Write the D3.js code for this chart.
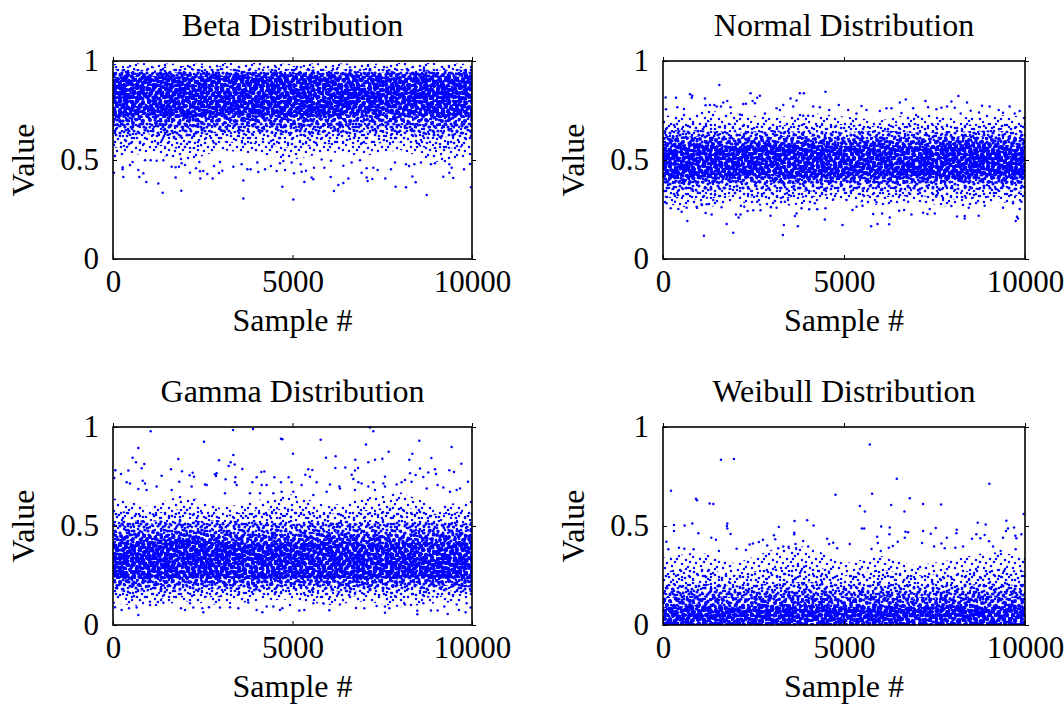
<!DOCTYPE html>
<html>
<head>
<meta charset="utf-8">
<script src="https://cdn.jsdelivr.net/npm/d3@7"></script>
<style>
body { margin: 0; background: #fff; }
text { font-family: "Liberation Serif", serif; fill: #000; }
</style>
</head>
<body>
<svg id="chart" width="1064" height="706"></svg>
<script>
// the individually readable points, [sample #, value]
const betaPoints = [[3630,.306],[5023,.301],[8737,.323],[1383,.335],[1903,.345],[4716,.365],[6155,.344],[7873,.365],[8161,.362],[9972,.362],[928,.389],[1262,.381],[3630,.397],[5330,.389],[6276,.374],[6415,.384],[6555,.406],[8430,.387],[287,.414],[733,.414],[1745,.411],[2432,.407],[2776,.406],[5533,.411],[5580,.403],[6063,.414],[7065,.411],[7094,.394],[7224,.404],[7585,.407],[8338,.417],[9201,.416],[9480,.409],[9368,.436],[27,.436],[269,.453],[269,.463],[705,.45],[845,.433],[1634,.466],[1745,.463],[1838,.466],[1912,.483],[2144,.436],[2311,.458],[2423,.443],[2516,.445],[2627,.429],[2952,.434],[3045,.446],[2813,.47],[3351,.466],[3584,.478],[3741,.453],[3834,.453],[4048,.44],[4234,.453],[4400,.47],[4559,.445],[4791,.45],[4651,.483],[5041,.433],[5255,.441],[5376,.446],[5227,.478],[5599,.461],[5886,.461],[6415,.471],[6926,.436],[7065,.458],[7251,.461],[7372,.45],[7743,.453],[8161,.478],[8245,.47],[8393,.478],[8579,.488],[9368,.478],[9433,.461],[9777,.453],[9944,.48],[8857,.478],[8968,.483],[9247,.495],[473,.475],[547,.49],[891,.499],[1049,.499],[1216,.496],[1402,.499],[2005,.475],[2404,.49],[2980,.49],[4020,.488],[4744,.495],[4976,.488],[5812,.503],[6072,.496],[6648,.487],[6880,.499],[7855,.487]];
const normalPoints = [[1555,.879],[4489,.845],[2419,.837],[359,.815],[745,.832],[809,.825],[791,.815],[73,.816],[1159,.81],[2677,.825],[2603,.815],[3523,.811],[3781,.837],[3891,.837],[3689,.801],[8160,.823],[6707,.806],[6541,.791],[7249,.798],[7967,.795],[8399,.79],[1665,.791],[1775,.798],[2217,.783],[2290,.784],[2475,.798],[2539,.786],[1177,.776],[1297,.778],[1417,.778],[1481,.77],[1601,.77],[1867,.766],[3321,.778],[3597,.77],[3137,.761],[3229,.753],[4149,.77],[4333,.766],[4857,.778],[5483,.773],[5115,.753],[5621,.753],[5989,.747],[6173,.761],[6311,.761],[6909,.761],[7323,.766],[7553,.756],[7691,.764],[7847,.77],[8059,.764],[8500,.749],[8813,.774],[9025,.77],[9577,.77],[83,.756],[395,.766],[579,.758],[9853,.747],[9273,.752],[8731,.74],[8225,.735],[2125,.73],[2815,.735],[4590,.752],[3873,.724],[4011,.724],[5345,.735],[6587,.737],[7047,.719],[9393,.739],[9715,.735],
  [1131,.118],[1941,.133],[3312,.121],[1757,.177],[3339,.172],[3726,.165],[4959,.172],[5750,.165],[5925,.177],[6247,.175],[671,.192],[2088,.209],[2015,.225],[2143,.225],[3643,.217],[3689,.23],[4471,.2],[6265,.209],[5805,.227],[6053,.23],[8123,.215],[8335,.217],[8335,.205],[8721,.219],[9743,.192],[9779,.214],[9807,.205],[1177,.232],[1343,.225],[2971,.219],[211,.256],[423,.253],[515,.239],[653,.259],[2337,.243],[2493,.246],[2695,.246],[1619,.261],[2153,.269],[2245,.264],[2981,.261],[3137,.259],[3827,.256],[4039,.251],[4259,.251],[4489,.256],[5235,.248],[5345,.264],[5511,.269],[6523,.244],[6661,.248],[6863,.225],[7185,.233],[7305,.227],[7507,.23],[7369,.252],[7967,.268],[8445,.259],[8887,.269],[9393,.259],[9853,.252],[101,.281],[331,.289],[929,.264],[1067,.276],[1205,.276],[1389,.298],[2603,.289],[3091,.293],[3367,.289],[4195,.281],[4701,.3],[5069,.298],[5897,.286],[6771,.289],[7737,.298],[9669,.281],[9899,.289]];
const gammaPoints = [[1049,.978],[3342,.985],[3899,.99],[7158,.998],[7251,.978],[4679,.941],[4716,.938],[2534,.926],[5784,.936],[7047,.912],[8533,.931],[9433,.899],[705,.894],[547,.845],[640,.822],[872,.813],[798,.792],[1819,.838],[2952,.832],[3351,.859],[3277,.822],[3222,.803],[3389,.81],[3602,.788],[5013,.865],[5933,.845],[6202,.852],[6193,.793],[6471,.795],[6750,.835],[6824,.793],[6740,.78],[7112,.822],[7298,.835],[7502,.84],[7678,.875],[8254,.835],[8338,.865],[8867,.843],[9703,.815],[1615,.786],[65,.781],[427,.78],[222,.763],[37,.742],[1355,.754],[1922,.776],[2135,.756],[2219,.769],[2256,.749],[2841,.761],[2887,.766],[2869,.752],[3138,.736],[3407,.746],[4001,.746],[4131,.773],[4215,.775],[4493,.746],[4893,.746],[5357,.759],[5440,.786],[5552,.783],[5487,.749],[6648,.759],[6695,.738],[7576,.749],[8133,.732],[8273,.766],[8551,.79],[8430,.758],[8969,.786],[8997,.763],[8783,.77],[8644,.748],[9368,.781],[9498,.773],[9888,.724],
  [380,.721],[473,.715],[826,.729],[891,.715],[1847,.724],[2562,.71],[2609,.707],[3398,.721],[3444,.707],[3881,.721],[4141,.707],[4280,.707],[4679,.721],[4976,.721],[5255,.707],[5673,.721],[6044,.71],[6304,.699],[6833,.721],[6926,.715],[7251,.721],[7530,.715],[7901,.71],[8040,.721],[8319,.724],[8737,.69],[9043,.707],[9201,.694],[9668,.69],
  [705,.687],[937,.682],[1216,.699],[1634,.682],[2191,.699],[3119,.665],[3816,.665],[4094,.665],[4466,.665],[4698,.673],[5023,.673],[5580,.657],[5951,.673],[6322,.69],[6740,.682],[7112,.699],[7298,.682],[7576,.699],[9387,.673],[9573,.682],
  [705,.05],[8477,.054],[8477,.072],[7576,.062],[9322,.056],[4159,.064],[4001,.076],[55,.09],[241,.076],[445,.084],[659,.088],[1894,.084],[2005,.076],[2237,.088],[2488,.084],[2516,.064],[2674,.09],[2980,.088],[3259,.09],[3491,.084],[4280,.093],[4466,.093],[4651,.076],[4716,.084],[5190,.073],[5329,.076],[6026,.074],[6768,.086],[7000,.084],[7697,.084],[7576,.093],[8857,.073],[9043,.073],[9229,.093],[9637,.076],[9823,.064],[9962,.088],[9851,.11],[6322,.104],[7344,.096],[8133,.104],[1402,.113],[1030,.118],[2144,.11],[3769,.114],[4930,.101],[5580,.11],[9572,.104],[5858,.11],[8644,.11]];
const weibullPoints = [[5713,.912],[1601,.835],[1959,.838],[6458,.739],[9016,.714],[221,.678],[4765,.658],[5777,.663],[911,.637],[938,.63],[1288,.614],[1389,.611],[6817,.64],[6302,.606],[7185,.611],[7682,.609],[5437,.601],[6670,.573],[5575,.573],[9963,.561],[303,.505],[598,.503],[809,.512],[1775,.512],[1766,.5],[1775,.487],[975,.463],[1867,.46],[3201,.495],[3634,.525],[3983,.529],[4158,.503],[3625,.466],[3625,.458],[5492,.487],[5557,.487],[6026,.498],[6265,.492],[6256,.458],[6697,.471],[6771,.468],[5915,.446],[4535,.436],[7185,.475],[7397,.461],[7535,.49],[8114,.481],[8105,.463],[8694,.517],[8915,.508],[9485,.527],[9531,.488],[9697,.492],[9476,.475],[8657,.458],[8887,.455],[9733,.451],[9899,.458],[303,.475],[1334,.441],[1463,.431],[3063,.453],[3100,.433],[3873,.424],[4011,.396],[92,.421],[441,.39],[589,.385],[147,.382],[846,.382],[1545,.374],[2033,.385],[2291,.379],[2392,.406],[2484,.412],[2649,.419],[2760,.431],[2879,.401],[3183,.387],[3321,.396],[3468,.395],[3661,.409],[3680,.384],[4591,.409],[4701,.416],[4811,.387],[5161,.409],[5759,.384],[5934,.414],[6017,.374],[6237,.39],[6348,.399],[6486,.421],[6679,.441],[7157,.414],[7489,.396],[7691,.412],[7783,.387],[7838,.441],[8077,.39],[8289,.396],[8537,.436],[8767,.438],[9007,.423],[9117,.397],[9393,.441],[9761,.438],[9329,.374],[9743,.382]];

// too many points to read one by one, so the crowded part of each cloud is
// kept as five nested envelopes (lower and upper edge), one per density step,
// sampled every 1000 samples
const bandSamples = [0,1000,2000,3000,4000,5000,6000,7000,8000,9000,10000];
const betaFringeLow = [.5,.54,.49,.55,.53,.5,.54,.52,.55,.49,.52];
const betaFringeHigh = [.985,.99,.985,.99,.99,.985,.99,.985,.99,.99,.985];
const betaOuterLow = [.56,.58,.55,.59,.58,.56,.58,.58,.59,.55,.57];
const betaOuterHigh = [.975,.97,.975,.975,.97,.975,.97,.975,.97,.975,.97];
const betaMidLow = [.62,.63,.61,.64,.64,.62,.63,.64,.64,.61,.63];
const betaMidHigh = [.96,.955,.96,.96,.955,.96,.955,.96,.96,.955,.96];
const betaInnerLow = [.67,.68,.66,.68,.68,.67,.67,.69,.68,.67,.68];
const betaInnerHigh = [.945,.94,.945,.94,.945,.94,.94,.945,.94,.945,.94];
const betaCoreLow = [.72,.73,.71,.73,.73,.72,.72,.74,.73,.72,.73];
const betaCoreHigh = [.92,.925,.92,.925,.92,.925,.92,.925,.92,.925,.92];
const normalFringeLow = [.28,.25,.29,.26,.28,.3,.27,.29,.26,.28,.29];
const normalFringeHigh = [.72,.75,.74,.71,.74,.72,.7,.74,.71,.73,.72];
const normalOuterLow = [.31,.3,.32,.3,.31,.33,.31,.32,.3,.31,.32];
const normalOuterHigh = [.68,.7,.68,.67,.69,.68,.67,.69,.67,.69,.68];
const normalMidLow = [.35,.34,.35,.35,.34,.35,.35,.34,.35,.35,.34];
const normalMidHigh = [.65,.65,.64,.65,.64,.64,.65,.64,.64,.65,.64];
const normalInnerLow = [.38,.38,.39,.38,.38,.39,.38,.38,.39,.38,.38];
const normalInnerHigh = [.62,.62,.61,.62,.62,.61,.62,.61,.62,.62,.61];
const normalCoreLow = [.42,.41,.42,.42,.41,.42,.42,.42,.41,.42,.42];
const normalCoreHigh = [.58,.58,.57,.58,.58,.57,.58,.57,.58,.58,.57];
const gammaFringeLow = [.11,.09,.12,.1,.12,.13,.1,.12,.09,.11,.12];
const gammaFringeHigh = [.64,.6,.66,.59,.63,.66,.6,.64,.67,.6,.63];
const gammaOuterLow = [.14,.13,.14,.14,.15,.15,.13,.15,.13,.14,.15];
const gammaOuterHigh = [.58,.56,.59,.55,.58,.59,.56,.58,.6,.56,.58];
const gammaMidLow = [.17,.17,.17,.18,.17,.18,.17,.17,.18,.17,.17];
const gammaMidHigh = [.52,.53,.52,.53,.52,.51,.52,.51,.52,.52,.51];
const gammaInnerLow = [.2,.19,.2,.2,.19,.2,.2,.19,.2,.2,.19];
const gammaInnerHigh = [.46,.47,.48,.47,.46,.46,.47,.46,.46,.47,.46];
const gammaCoreLow = [.24,.23,.24,.24,.23,.24,.24,.23,.24,.24,.23];
const gammaCoreHigh = [.41,.42,.43,.42,.41,.41,.42,.41,.41,.42,.41];
const weibullFringeLow = [0,0,0,0,0,0,0,0,0,0,0];
const weibullFringeHigh = [.34,.37,.31,.38,.4,.31,.35,.3,.33,.37,.35];
const weibullOuterLow = [0,0,0,0,0,0,0,0,0,0,0];
const weibullOuterHigh = [.27,.29,.25,.29,.31,.25,.28,.25,.26,.29,.27];
const weibullMidLow = [0,0,0,0,0,0,0,0,0,0,0];
const weibullMidHigh = [.2,.21,.2,.21,.22,.2,.21,.2,.2,.21,.2];
const weibullInnerLow = [0,0,0,0,0,0,0,0,0,0,0];
const weibullInnerHigh = [.14,.15,.14,.15,.15,.14,.15,.14,.14,.15,.14];
const weibullCoreLow = [0,0,0,0,0,0,0,0,0,0,0];
const weibullCoreHigh = [.09,.1,.09,.1,.1,.09,.1,.09,.1,.09,.1];

const xTicks = [0,5000,10000];
const yTicks = [0,0.5,1];
const xLabel = "Sample #";
const yLabel = "Value";

const blue = "#0000ff";
const plot_w = 359;
const plot_h = 198;
const dot_r = 1.25;

var svg = d3.select("#chart");
var defs = svg.append("defs");

// repeating speckle so the envelopes read as crowded dots and not flat colour
// (tile sizes differ so the layers do not line up into a visible grid)
function make_tile(id, w, h, r, spots) {
    var p = defs.append("pattern").attr("id", id)
        .attr("patternUnits", "userSpaceOnUse")
        .attr("width", w).attr("height", h);
    spots.forEach(function(s) {
        p.append("circle").attr("cx", s[0]).attr("cy", s[1]).attr("r", r).attr("fill", blue);
    });
}
make_tile("tileA", 29, 23, dot_r, [[2,3],[9,1],[17,5],[25,2],[5,9],[13,11],[21,8],[27,12],[1,15],[8,17],[16,14],[23,18],[4,21],[12,20],[19,22],[27,20],[10,6],[19,12],[14,17],[23,4]]);
make_tile("tileB", 37, 31, 1.35, [[3,6],[11,2],[20,4],[30,1],[35,8],[7,13],[15,10],[25,9],[32,15],[2,19],[12,17],[19,15],[27,20],[35,24],[6,26],[15,24],[22,27],[30,28],[10,29],[18,20],[6,3],[15,6],[25,3],[33,5],[11,9],[20,11],[29,12],[3,12],[8,20],[14,13],[24,15],[31,21],[3,25],[11,23],[19,29],[26,25]]);
make_tile("tileC", 19, 17, 1.6, [[2,2],[7,4],[13,1],[17,6],[4,8],[10,9],[15,12],[1,13],[7,14],[12,15],[18,15],[9,12],[16,2]]);
make_tile("tileE", 23, 19, 2, [[1,1],[7,3],[14,2],[20,5],[4,7],[11,8],[17,10],[22,12],[2,13],[8,14],[14,15],[20,17],[5,18],[11,17]]);
make_tile("tileD", 17, 13, 2.3, [[2,2],[7,1],[13,3],[4,6],[10,6],[15,8],[1,10],[7,11],[12,12]]);

function draw_panel(cfg) {
    var x = d3.scaleLinear().domain([0,10000]).range([0, cfg.w]);
    var y = d3.scaleLinear().domain([0,1]).range([plot_h, 0]);
    var g = svg.append("g").attr("transform", `translate(${cfg.left},${cfg.top})`);

    var area = d3.area()
        .x(function(d) { return x(d[0]); })
        .y0(function(d) { return y(d[1]); })
        .y1(function(d) { return y(d[2]); });
    var tiles = ["tileA","tileB","tileC","tileE","tileD"];
    cfg.bands.forEach(function(b, i) {
        g.append("path").datum(d3.zip(bandSamples, b[0], b[1]))
            .attr("d", area).attr("fill", `url(#${tiles[i]})`);
    });

    g.selectAll(".dot").data(cfg.points).enter().append("circle")
        .attr("class", "dot")
        .attr("cx", function(d) { return x(d[0]); })
        .attr("cy", function(d) { return y(d[1]); })
        .attr("r", dot_r)
        .attr("fill", blue);

    // ticks point inward on all four sides
    function ticks_only(a) { return a.tickSize(-4).tickFormat("").tickSizeOuter(0); }
    g.append("g").call(ticks_only(d3.axisTop(x).tickValues(xTicks))).attr("transform", "translate(0,0) scale(1,-1)");
    g.append("g").attr("transform", `translate(${cfg.w},0) scale(-1,1)`).call(ticks_only(d3.axisRight(y).tickValues(yTicks)));
    var xAxis = g.append("g").attr("transform", `translate(0,${plot_h})`)
        .call(d3.axisBottom(x).tickValues(xTicks).tickSize(-4).tickSizeOuter(0).tickPadding(10).tickFormat(d3.format("d")));
    var yAxis = g.append("g")
        .call(d3.axisLeft(y).tickValues(yTicks).tickSize(-4).tickSizeOuter(0).tickPadding(14).tickFormat(function(d) { return String(d); }));
    g.selectAll(".domain").remove();
    g.selectAll(".tick line").attr("stroke", "#000").attr("stroke-width", 1);
    xAxis.selectAll("text").attr("font-size", 31).attr("font-family", "Liberation Serif").attr("y", 11).attr("dy", "0.71em");
    yAxis.selectAll("text").attr("font-size", 31).attr("font-family", "Liberation Serif").attr("dy", "0.32em");

    g.append("rect").attr("width", cfg.w).attr("height", plot_h)
        .attr("fill", "none").attr("stroke", "#000").attr("stroke-width", 1.6);

    g.append("text").attr("x", cfg.w/2).attr("y", -25).attr("text-anchor", "middle")
        .attr("font-size", 32).text(cfg.title);
    g.append("text").attr("x", cfg.w/2).attr("y", 72).attr("transform", `translate(0,${plot_h})`)
        .attr("text-anchor", "middle").attr("font-size", 32).text(xLabel);
    g.append("text").attr("transform", `translate(${cfg.ylabel_x},${plot_h/2}) rotate(-90)`)
        .attr("text-anchor", "middle").attr("font-size", 32).text(yLabel);
}

draw_panel({title:"Beta Distribution", left:113, top:61, w:plot_w, ylabel_x:-79, points:betaPoints,
    bands:[[betaFringeLow,betaFringeHigh],[betaOuterLow,betaOuterHigh],[betaMidLow,betaMidHigh],[betaInnerLow,betaInnerHigh],[betaCoreLow,betaCoreHigh]]});
draw_panel({title:"Normal Distribution", left:663, top:61, w:362, ylabel_x:-79, points:normalPoints,
    bands:[[normalFringeLow,normalFringeHigh],[normalOuterLow,normalOuterHigh],[normalMidLow,normalMidHigh],[normalInnerLow,normalInnerHigh],[normalCoreLow,normalCoreHigh]]});
draw_panel({title:"Gamma Distribution", left:113, top:427, w:plot_w, ylabel_x:-79, points:gammaPoints,
    bands:[[gammaFringeLow,gammaFringeHigh],[gammaOuterLow,gammaOuterHigh],[gammaMidLow,gammaMidHigh],[gammaInnerLow,gammaInnerHigh],[gammaCoreLow,gammaCoreHigh]]});
draw_panel({title:"Weibull Distribution", left:663, top:427, w:362, ylabel_x:-79, points:weibullPoints,
    bands:[[weibullFringeLow,weibullFringeHigh],[weibullOuterLow,weibullOuterHigh],[weibullMidLow,weibullMidHigh],[weibullInnerLow,weibullInnerHigh],[weibullCoreLow,weibullCoreHigh]]});
</script>
</body>
</html>
